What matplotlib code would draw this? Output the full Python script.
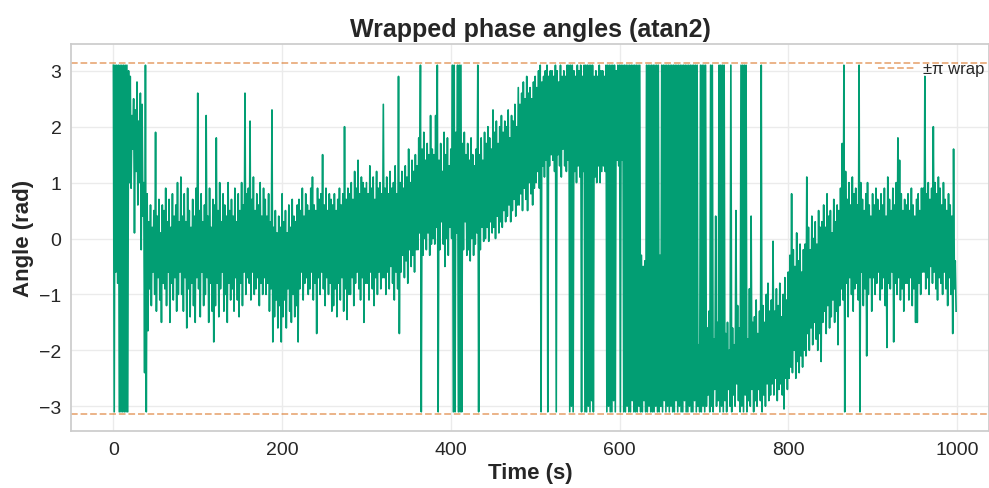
import numpy as np
import matplotlib.pyplot as plt

# wrapped phase (rad), per 2 s bin:
# the high and the low swing of the trace inside each bin
bin_s = 2.0
upper = [
    3.1, 3.1, 3.1, 3.1, 3.1, 3.1, 3.1, 3.1, 3.1, 3.0,
    2.9, 2.2, 2.5, 2.3, 2.8, 2.1, 2.6, 2.4, 1.0, 3.1,
    0.8, 0.3, 0.6, 0.2, 0.5, 1.9, 0.4, 0.7, 0.1, 0.6,
    0.5, 0.9, 0.3, 0.7, 0.2, 0.8, 0.4, 0.6, 1.0, 0.3,
    1.1, 0.4, 0.8, 0.3, 0.9, 0.5, 0.2, 0.7, 0.4, 0.9,
    2.6, 0.5, 0.8, 0.3, 0.6, 2.2, 0.4, 0.9, 0.2, 0.7,
    0.6, 1.8, 0.5, 1.0, 0.3, 0.8, 0.6, 0.4, 1.0, 0.5,
    0.7, 0.4, 0.9, 0.3, 0.8, 0.5, 1.0, 0.6, 2.6, 0.8,
    0.9, 2.1, 0.7, 1.1, 0.5, 0.8, 0.6, 1.0, 0.4, 0.9,
    0.7, 0.4, 0.8, 0.3, 2.3, 0.2, 0.5, 0.1, 0.4, 0.2,
    0.8, 0.3, 0.5, 0.1, 0.6, 0.2, 0.7, 0.4, 0.3, 0.6,
    0.7, 0.5, 0.9, 0.4, 0.8, 0.6, 0.5, 0.9, 1.1, 0.6,
    0.5, 0.9, 0.7, 0.8, 1.5, 0.6, 0.9, 0.5, 0.8, 0.7,
    0.6, 0.8, 0.5, 0.7, 0.9, 0.6, 0.8, 2.0, 0.7, 0.9,
    0.8, 1.0, 0.7, 1.2, 0.9, 1.4, 0.8, 1.1, 1.0, 0.9,
    1.0, 0.8, 1.3, 0.9, 1.1, 0.7, 1.2, 0.9, 1.0, 0.8,
    2.4, 0.9, 1.1, 0.8, 1.2, 0.9, 1.0, 1.3, 0.8, 2.9,
    1.0, 1.2, 0.9, 1.3, 1.1, 1.6, 1.0, 1.4, 1.2, 1.5,
    1.3, 1.8, 3.1, 1.6, 1.9, 1.4, 1.7, 1.5, 2.2, 1.6,
    1.5, 2.2, 3.1, 1.4, 1.7, 1.2, 1.9, 1.5, 1.8, 1.3,
    1.6, 3.1, 3.1, 1.9, 3.1, 3.1, 3.1, 1.7, 1.9, 1.5,
    1.7, 1.4, 1.8, 1.5, 1.3, 1.6, 3.1, 1.5, 1.8, 1.4,
    1.9, 1.7, 2.0, 1.8, 1.6, 2.3, 1.9, 2.1, 1.7, 2.0,
    2.2, 1.9, 2.1, 2.0, 2.3, 1.8, 2.2, 2.1, 2.4, 2.0,
    2.7, 2.4, 2.6, 2.8, 2.5, 2.9, 2.6, 2.7, 2.5, 2.8,
    2.9, 2.7, 3.0, 3.1, 2.8, 2.9, 3.0, 3.1, 2.9, 3.0,
    3.0, 2.9, 3.1, 3.0, 2.8, 3.1, 2.9, 3.0, 2.9, 3.1,
    3.1, 3.1, 3.1, 3.0, 2.9, 3.1, 3.0, 3.1, 2.9, 3.1,
    3.1, 3.1, 3.1, 3.1, 3.1, 2.9, 3.0, 2.9, 3.1, 3.0,
    3.0, 2.9, 3.1, 3.1, 3.1, 3.1, 3.1, 3.1, 3.0, 3.1,
    3.1, 3.1, 3.1, 3.1, 3.1, 3.1, 3.1, 3.1, 3.1, 3.1,
    3.1, 3.1, 3.1, -0.3, -0.5, -0.4, 3.1, 3.1, 3.1, 3.1,
    3.1, 3.1, 3.1, 3.1, -0.3, 3.1, 3.1, 3.1, 3.1, 3.1,
    3.1, 3.1, 3.1, 3.1, 3.1, 3.1, 3.1, 3.1, 3.1, 3.1,
    3.1, 3.1, 3.1, 3.1, 3.1, 3.1, 3.1, -1.9, 3.1, 3.1,
    3.1, 3.1, -1.6, -1.3, 3.1, 3.1, -1.8, 0.4, -1.5, 3.1,
    3.1, 3.1, 3.1, -1.7, -1.5, -2.0, 3.1, -1.6, -1.9, 0.5,
    -1.2, -1.6, 3.1, 3.1, 3.1, 3.1, -1.8, -0.9, 0.4, -1.5,
    -1.4, -1.1, -1.7, -1.3, 3.1, -1.2, -1.5, -1.0, -0.8, -1.3,
    -1.1, -0.05, -1.3, -0.9, -1.2, -0.8, -1.4, -1.0, -0.7, -1.1,
    -0.6, -0.3, 0.8, -0.2, -0.5, 0.1, -0.4, -0.1, -0.6, -0.2,
    -0.1, 1.1, 0.2, -0.2, 0.4, 0.0, 0.3, -0.1, 0.5, 0.2,
    0.3, 0.6, 0.2, 0.8, 0.4, 0.5, 0.1, 0.7, 0.3, 0.6,
    0.5, 0.9, 1.7, 3.1, 1.2, 0.7, 1.0, 0.6, 1.1, 0.8,
    0.9, 0.6, 3.1, 1.0, 0.7, 0.5, 0.8, 1.0, 0.6, 0.4,
    0.8, 0.6, 0.9, 0.7, 0.5, 0.8, 0.6, 0.9, 0.4, 1.1,
    0.7, 0.5, 0.9, 0.6, 1.0, 1.8, 1.4, 0.8, 0.5, 0.7,
    0.6, 0.8, 0.5, 0.9, 0.6, 0.4, 0.7, 0.8, 0.5, 0.9,
    0.9, 2.9, 0.8, 1.0, 0.7, 0.9, 2.0, 1.0, 0.8, 1.1,
    0.9, 0.6, 1.0, 0.7, 0.5, 0.8, 0.6, 0.4, 1.6, -0.4,
]
lower = [
    -3.1, -0.6, -0.8, -3.1, -3.1, -3.1, -3.1, -3.1, -3.1, 1.0,
    0.9, 1.6, 0.1, 1.2, 0.6, 1.0, -0.2, 0.4, -2.4, -3.1,
    -1.65, -0.9, -1.2, -0.6, -1.0, -1.3, -0.7, -1.1, -1.5, -0.8,
    -0.9, -1.2, -0.6, -1.5, -0.8, -1.1, -0.7, -1.3, -1.0, -0.6,
    -1.0, -1.3, -0.7, -1.6, -0.9, -1.4, -0.8, -1.2, -1.5, -0.7,
    -0.9, -1.4, -0.6, -1.2, -1.0, -0.7, -1.5, -0.8, -1.3, -1.85,
    -1.2, -0.8, -1.4, -0.9, -0.6, -1.3, -1.0, -1.5, -0.8, -1.1,
    -0.9, -1.3, -0.7, -1.1, -1.4, -0.8, -1.2, -0.6, -1.0, -0.7,
    -0.8, -1.1, -0.6, -1.0, -0.9, -0.7, -1.2, -0.8, -1.0, -0.7,
    -1.0, -0.8, -1.3, -0.9, -1.85, -1.4, -1.1, -1.6, -1.2, -1.85,
    -1.4, -1.1, -1.6, -0.9, -1.3, -1.5, -1.0, -1.4, -1.2, -1.85,
    -0.9, -0.6, -1.1, -0.8, -0.7, -1.0, -0.9, -0.6, -1.1, -0.8,
    -1.7, -0.7, -1.0, -0.6, -0.9, -1.2, -0.7, -1.0, -0.8, -1.3,
    -1.2, -0.9, -1.4, -0.8, -1.1, -0.7, -1.3, -0.9, -1.45, -1.0,
    -1.0, -0.7, -1.2, -0.8, -0.6, -0.9, -1.1, -0.7, -1.5, -0.8,
    -0.8, -1.1, -0.6, -0.9, -1.2, -0.7, -1.0, -0.6, -0.9, -0.7,
    -0.7, -1.0, -0.6, -0.9, -0.5, -0.8, -1.1, -0.6, -0.9, -1.7,
    -0.6, -0.3, -0.7, -0.4, -0.8, -0.2, -0.5, -0.3, -0.6, -0.2,
    -0.2, 0.1, -3.1, -0.3, 0.0, -0.2, 0.1, -0.3, -0.1, 0.0,
    -0.1, 0.2, -3.1, -0.2, 0.3, -0.1, -0.5, 0.0, -0.3, 0.2,
    0.0, -3.1, -3.1, 0.1, -3.1, -3.1, -3.1, -0.2, 0.3, -0.3,
    -0.2, -0.4, 0.0, -0.3, -0.1, 0.1, -3.1, -0.2, 0.2, -0.05,
    0.0, 0.2, -0.05, 0.3, 0.1, 0.2, 0.0, 0.4, 0.1, 0.3,
    0.2, 0.5, 0.3, 0.4, 0.6, 0.3, 0.5, 0.7, 0.4, 0.6,
    0.6, 0.8, 0.5, 0.9, 0.7, 0.5, 1.0, 0.8, 0.6, 0.9,
    1.0, 1.2, 0.9, -3.1, 1.3, 1.1, 1.4, -3.1, 1.3, 1.5,
    1.4, 1.2, -3.1, 1.5, 1.3, 1.1, 1.6, 1.3, 1.2, 1.4,
    -3.1, -3.0, -3.1, 1.2, 1.0, 1.3, 1.1, -3.1, 1.2, -3.1,
    -3.1, -3.0, -3.1, -2.9, -3.1, 1.1, 1.0, 1.3, 1.0, 1.2,
    1.3, 1.2, -3.1, -3.0, -3.1, -3.1, -2.9, -3.1, 1.4, 1.3,
    -3.1, 1.4, -3.1, -3.1, -3.0, -3.1, -3.1, -2.9, -3.1, -3.1,
    -3.1, -3.0, -3.1, -3.1, -2.9, -3.1, -3.1, -3.0, -3.1, -3.1,
    -3.1, -3.0, -3.1, -3.1, -3.0, -3.1, -2.9, -3.1, -3.0, -3.1,
    -3.0, -3.1, -3.1, -2.9, -3.1, -3.0, -3.1, -3.1, -2.9, -3.1,
    -3.1, -3.0, -3.1, -3.1, -2.9, -3.1, -3.0, -3.1, -3.1, -3.0,
    -3.1, -3.0, -2.8, -3.1, -3.0, -3.1, -2.7, -3.0, -2.9, -3.1,
    -3.0, -3.1, -2.9, -3.1, -2.7, -3.0, -3.1, -2.8, -3.0, -2.6,
    -2.9, -3.1, -3.0, -3.1, -2.8, -3.1, -2.9, -3.0, -2.7, -3.1,
    -2.9, -3.0, -2.7, -2.9, -3.1, -2.8, -3.0, -2.6, -2.9, -2.8,
    -2.6, -2.8, -2.5, -2.9, -2.7, -2.6, -2.8, -3.05, -2.5, -2.7,
    -2.5, -2.3, -2.4, -2.0, -2.5, -2.2, -2.4, -2.1, -2.3, -2.0,
    -2.1, -1.7, -2.0, -1.6, -1.9, -1.5, -1.8, -2.0, -1.7, -2.2,
    -1.5, -1.3, -1.7, -1.2, -1.6, -1.4, -1.1, -1.5, -1.3, -1.9,
    -1.2, -0.9, -1.1, -3.1, -0.8, -1.4, -0.7, -1.0, -1.3, -0.9,
    -0.8, -1.1, -3.1, -0.6, -1.2, -0.9, -2.1, -1.0, -0.7, -1.3,
    -0.7, -1.0, -0.8, -0.6, -1.1, -0.9, -0.7, -1.2, -1.95, -0.8,
    -0.9, -0.6, -1.85, -0.8, -1.0, -0.7, -1.1, -0.9, -1.3, -0.8,
    -0.8, -1.1, -0.7, -1.2, -0.9, -1.5, -1.5, -0.8, -1.0, -0.6,
    -0.6, -0.9, -0.7, -1.0, -0.5, -0.8, -0.6, -0.9, -1.1, -0.7,
    -0.8, -1.0, -0.6, -0.9, -1.2, -0.7, -1.0, -1.7, -0.9, -1.3,
]

# trace: high swing at the start of each bin, low swing half a bin later
phase = np.column_stack([upper, lower]).ravel()
t = np.arange(len(phase)) * (bin_s / 2)

line_color = '#029E73'
wrap_color = '#D55E00'
txt = '#262626'

plt.rcParams['font.family'] = ['Liberation Sans', 'DejaVu Sans']
fig = plt.figure(figsize=(9.89, 4.89), dpi=100)
ax = fig.add_axes([0.072, 0.117, 0.928, 0.791])

ax.plot(t, phase, color=line_color, lw=1.2)
ax.axhline(np.pi, color=wrap_color, ls='--', lw=1.3, alpha=0.5, label='±π wrap')
ax.axhline(-np.pi, color=wrap_color, ls='--', lw=1.3, alpha=0.5)

ax.set_xlim(-50, 1038)
ax.set_ylim(-3.44, 3.48)
ax.set_xticks([0, 200, 400, 600, 800, 1000])
ax.set_yticks([-3, -2, -1, 0, 1, 2, 3])
ax.grid(True, color='#ebebeb', lw=1)
ax.set_axisbelow(True)
for s in ax.spines.values():
    s.set_color('#cccccc')
    s.set_linewidth(1.25)
ax.tick_params(labelsize=14, colors=txt, length=0, pad=7)

ax.set_title('Wrapped phase angles (atan2)', fontsize=18, fontweight='bold', color=txt, pad=6)
ax.set_xlabel('Time (s)', fontsize=16, fontweight='bold', color=txt, labelpad=3)
ax.set_ylabel('Angle (rad)', fontsize=16, fontweight='bold', color=txt, labelpad=4)
leg = ax.legend(loc='upper right', bbox_to_anchor=(1.002, 0.972), frameon=False,
                fontsize=12, borderaxespad=0, handletextpad=0.5, handlelength=2.2)
for tx in leg.get_texts():
    tx.set_color(txt)

fig.savefig('out.png', dpi=100)
